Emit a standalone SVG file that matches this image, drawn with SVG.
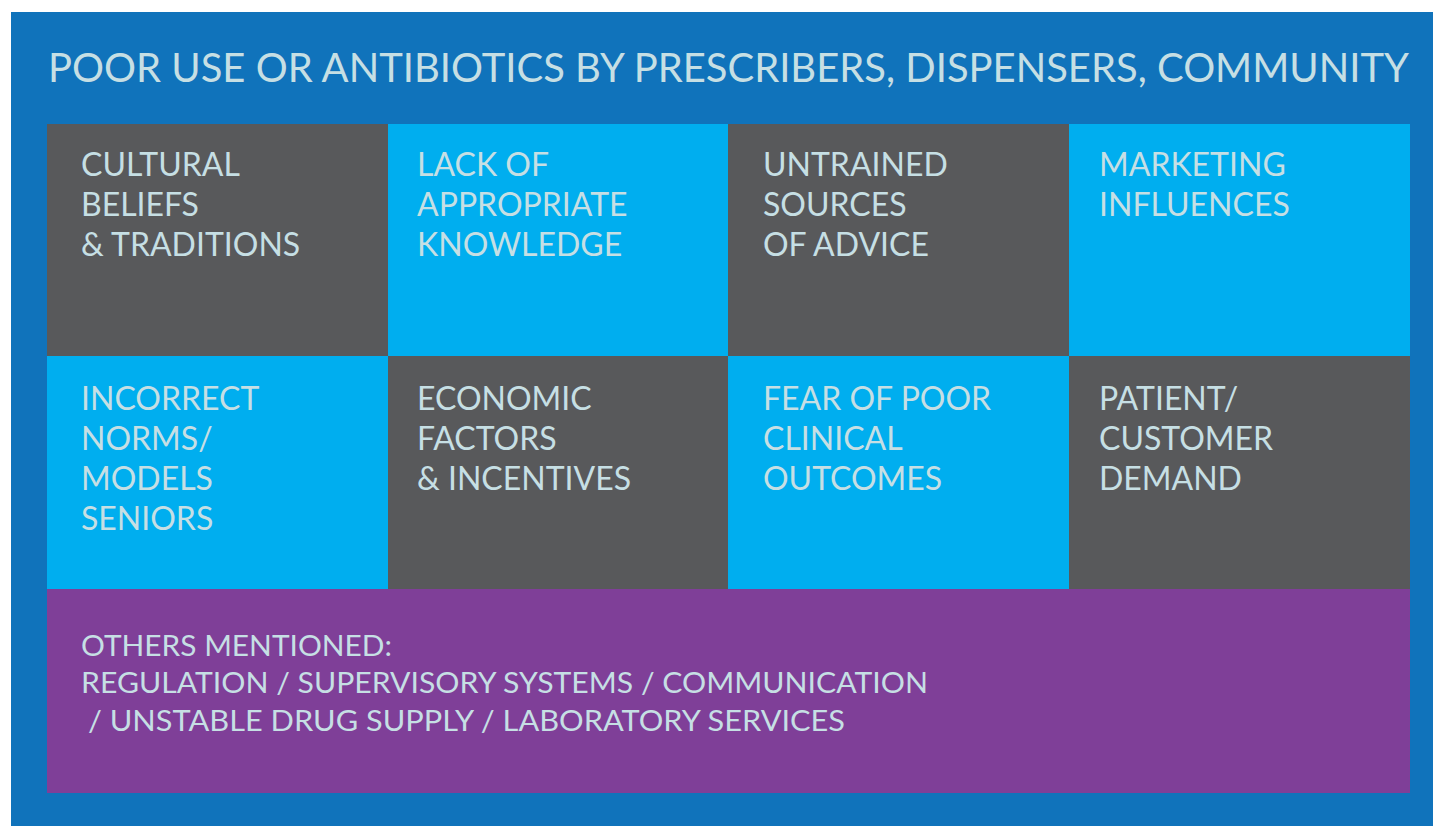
<svg xmlns="http://www.w3.org/2000/svg" width="1433" height="826" viewBox="0 0 1433 826">
<style>
.t{font-family:Lato,"Noto Sans","Liberation Sans",sans-serif;fill:#c6dfe4;}
.c{font-size:32px;}
.p{font-size:29px;}
.h{font-size:40px;}
</style>
<rect x="0" y="0" width="1433" height="826" fill="#ffffff"/>
<rect x="11" y="12" width="1422" height="814" fill="#1073bb"/>
<text class="t h" x="48" y="82" textLength="1361" lengthAdjust="spacingAndGlyphs">POOR USE OR ANTIBIOTICS BY PRESCRIBERS, DISPENSERS, COMMUNITY</text>
<g id="n1"><rect x="47" y="124" width="341" height="232" fill="#58595b"/>
<text class="t c" x="81" y="176">CULTURAL</text><text class="t c" x="81" y="216">BELIEFS</text><text class="t c" x="81" y="256">&amp; TRADITIONS</text></g>
<g id="n2"><rect x="388" y="124" width="340" height="232" fill="#00aeef"/>
<text class="t c" x="417" y="176">LACK OF</text><text class="t c" x="417" y="216">APPROPRIATE</text><text class="t c" x="417" y="256">KNOWLEDGE</text></g>
<g id="n3"><rect x="728" y="124" width="341" height="232" fill="#58595b"/>
<text class="t c" x="763" y="176">UNTRAINED</text><text class="t c" x="763" y="216">SOURCES</text><text class="t c" x="763" y="256">OF ADVICE</text></g>
<g id="n4"><rect x="1069" y="124" width="341" height="232" fill="#00aeef"/>
<text class="t c" x="1099" y="176">MARKETING</text><text class="t c" x="1099" y="216">INFLUENCES</text></g>
<g id="n5"><rect x="47" y="356" width="341" height="233" fill="#00aeef"/>
<text class="t c" x="81" y="410">INCORRECT</text><text class="t c" x="81" y="450">NORMS/</text><text class="t c" x="81" y="490">MODELS</text><text class="t c" x="81" y="530">SENIORS</text></g>
<g id="n6"><rect x="388" y="356" width="340" height="233" fill="#58595b"/>
<text class="t c" x="417" y="410">ECONOMIC</text><text class="t c" x="417" y="450">FACTORS</text><text class="t c" x="417" y="490">&amp; INCENTIVES</text></g>
<g id="n7"><rect x="728" y="356" width="341" height="233" fill="#00aeef"/>
<text class="t c" x="763" y="410">FEAR OF POOR</text><text class="t c" x="763" y="450">CLINICAL</text><text class="t c" x="763" y="490">OUTCOMES</text></g>
<g id="n8"><rect x="1069" y="356" width="341" height="233" fill="#58595b"/>
<text class="t c" x="1099" y="410">PATIENT/</text><text class="t c" x="1099" y="450">CUSTOMER</text><text class="t c" x="1099" y="490">DEMAND</text></g>
<g id="n9"><rect x="47" y="589" width="1363" height="204" fill="#7f3f98"/>
<text class="t p" x="81" y="656" textLength="311" lengthAdjust="spacingAndGlyphs">OTHERS MENTIONED:</text>
<text class="t p" x="81" y="693" textLength="847" lengthAdjust="spacingAndGlyphs">REGULATION / SUPERVISORY SYSTEMS / COMMUNICATION</text>
<text class="t p" x="88" y="731" textLength="757" lengthAdjust="spacingAndGlyphs">/ UNSTABLE DRUG SUPPLY / LABORATORY SERVICES</text></g>
<g id="connectors"></g>
</svg>
